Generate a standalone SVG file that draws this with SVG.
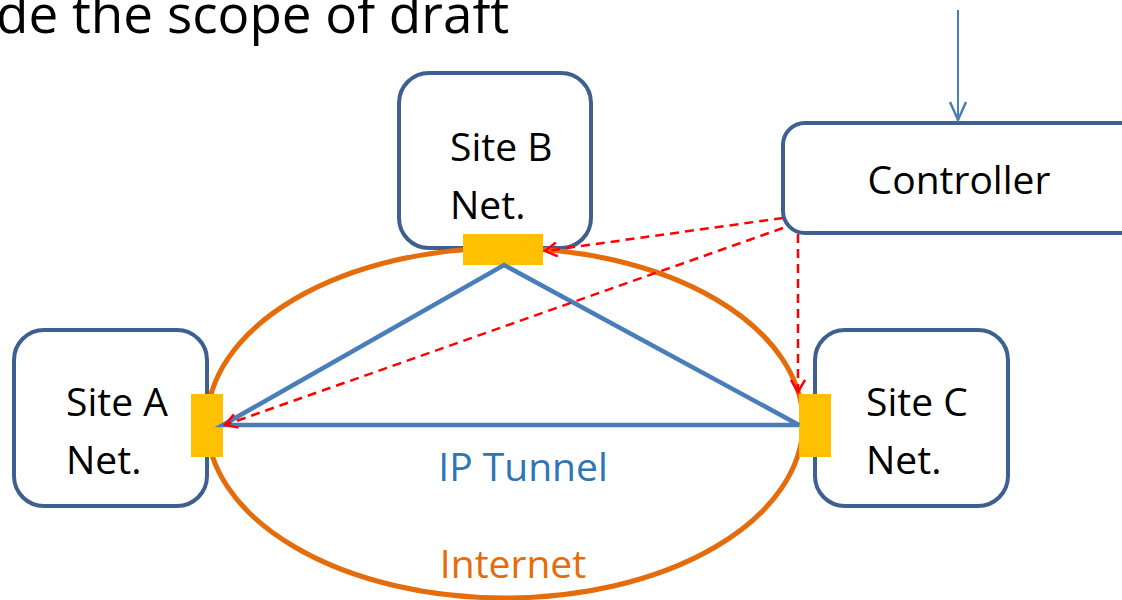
<svg xmlns="http://www.w3.org/2000/svg" width="1122" height="600" viewBox="0 0 1122 600">
<style>
.box{fill:#fff;stroke:#3d6091;stroke-width:4}
.t{font-family:"Open Sans","Liberation Sans",sans-serif;font-size:39px;fill:#000}
.port{fill:#ffc000}
.tun{stroke:#4a7ebb;stroke-width:4.5;fill:none}
.ctl{stroke:#ff0000;stroke-width:2.5;stroke-dasharray:9,6;fill:none}
</style>
<defs>
<marker id="ra" markerWidth="16" markerHeight="16" refX="13" refY="8" orient="auto" markerUnits="userSpaceOnUse">
<path d="M1,1 L13,8 L1,15" fill="none" stroke="#ff0000" stroke-width="2.5"/>
</marker>
<marker id="ba" markerWidth="24" markerHeight="20" refX="20" refY="10" orient="auto" markerUnits="userSpaceOnUse">
<path d="M2,2 L20,10 L2,18" fill="none" stroke="#4a7ebb" stroke-width="2.5"/>
</marker>
</defs>
<rect width="1122" height="600" fill="#fff"/>
<text x="-4" y="33" font-family="'Open Sans','Liberation Sans',sans-serif" font-size="53" fill="#000">de the scope of draft</text>
<g id="siteB"><rect class="box" x="399" y="73" width="192" height="175" rx="30"/><text class="t" x="450" y="161">Site B</text><text class="t" x="450" y="219">Net.</text></g>
<g id="controller"><rect class="box" x="783" y="123" width="360" height="110" rx="22"/><text class="t" x="959" y="194" text-anchor="middle">Controller</text></g>
<g id="siteA"><rect class="box" x="14" y="330" width="193" height="176" rx="30"/><text class="t" x="66" y="416">Site A</text><text class="t" x="66" y="474">Net.</text></g>
<g id="siteC"><rect class="box" x="815" y="330" width="193" height="176" rx="30"/><text class="t" x="866" y="416">Site C</text><text class="t" x="866" y="474">Net.</text></g>
<g id="internet"><ellipse cx="505" cy="423" rx="298" ry="175" fill="none" stroke="#e46c0a" stroke-width="5"/><text x="513" y="578" text-anchor="middle" font-family="'Open Sans','Liberation Sans',sans-serif" font-size="39" fill="#e46c0a">Internet</text></g>
<g id="ports"><rect class="port" x="463" y="234" width="80" height="31"/><rect class="port" x="191" y="394" width="32" height="63"/><rect class="port" x="799" y="394" width="32" height="63"/></g>
<g id="connectors">
<path class="tun" d="M223,425 L504,265 L799,425 Z"/>
<text x="523" y="481" text-anchor="middle" font-family="'Open Sans','Liberation Sans',sans-serif" font-size="39" fill="#2e75b6">IP Tunnel</text>
<line class="ctl" x1="783" y1="218" x2="545" y2="251" marker-end="url(#ra)"/>
<line class="ctl" x1="783" y1="228" x2="225" y2="425" marker-end="url(#ra)"/>
<line class="ctl" x1="798" y1="234" x2="798" y2="392" marker-end="url(#ra)"/>
<line x1="958" y1="10" x2="958" y2="120" stroke="#4a7ebb" stroke-width="2" marker-end="url(#ba)"/>
</g>
</svg>
